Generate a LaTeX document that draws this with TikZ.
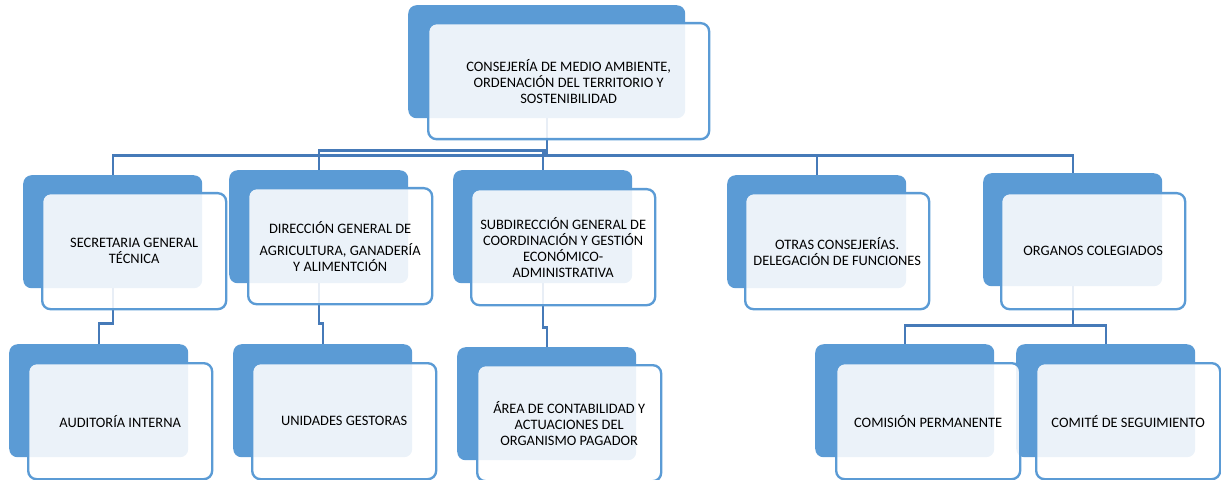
\documentclass[tikz,border=0pt]{standalone}
\usepackage{fontspec}
\setmainfont{Carlito}
\usetikzlibrary{calc}

\definecolor{boxblue}{RGB}{91,155,213}
\definecolor{lineblue}{RGB}{70,122,184}

\tikzset{
	backbox/.style={fill=boxblue, rounded corners=0.25cm, anchor=north west, inner sep=0pt,
		minimum width=179*0.03cm, minimum height=113*0.03cm},
	frontbox/.style={draw=boxblue, line width=2pt, fill=white, fill opacity=0.88, text opacity=1,
		rounded corners=0.25cm, anchor=north west, inner sep=0pt, align=center,
		minimum width=184*0.03cm, minimum height=116*0.03cm,
		font=\fontsize{12.3}{13.6}\selectfont},
	conn/.style={draw=lineblue, line width=2pt}
}

\begin{document}
\begin{tikzpicture}[x=0.03cm, y=-0.03cm]
	\useasboundingbox (0,0) rectangle (1221,480);
	
	% back boxes
	\node[backbox, minimum width=277*0.03cm] (consb) at (408,5) {};
	\node[backbox] (secb) at (23,175) {};
	\node[backbox] (dirb) at (229,170) {};
	\node[backbox] (subb) at (453,170) {};
	\node[backbox] (otrb) at (727,175) {};
	\node[backbox] (orgb) at (983,173) {};
	\node[backbox] (audb) at (9,344) {};
	\node[backbox] (unib) at (233,344) {};
	\node[backbox] (areab) at (457,347) {};
	\node[backbox] (comb) at (815,344) {};
	\node[backbox] (cmtb) at (1016,344) {};
	
	% connectors, top level
	\draw[conn] (consb.south) -- ++(0,37) -| (secb.north);
	\draw[conn] (consb.south) -- ++(0,32) -| (dirb.north);
	\draw[conn] (consb.south) -- ++(0,34) -| (subb.north);
	\draw[conn] (consb.south) -- ++(0,37) -| (otrb.north);
	\draw[conn] (consb.south) -- ++(0,37) -| (orgb.north);
	
	% connectors, second level
	\draw[conn] (secb.south) -- ++(0,35) -| (audb.north);
	\draw[conn] (dirb.south) -- ++(0,40) -| (unib.north);
	\draw[conn] (subb.south) -- ++(0,44) -| (areab.north);
	\draw[conn] (orgb.south) -- ++(0,39) -| (comb.north);
	\draw[conn] (orgb.south) -- ++(0,39) -| (cmtb.north);
	
	% front boxes with the texts
	\node[frontbox, minimum width=281*0.03cm] (cons) at (427,22)
		{CONSEJERÍA DE MEDIO AMBIENTE,\\ORDENACIÓN DEL TERRITORIO Y\\SOSTENIBILIDAD};
	\node[frontbox] (sec) at (41,192) {SECRETARIA GENERAL\\TÉCNICA};
	\node[frontbox] (dir) at (247,187)
		{DIRECCIÓN GENERAL DE\\[5pt]AGRICULTURA, GANADERÍA\\Y ALIMENTCIÓN};
	\node[frontbox] (sub) at (470,188)
		{SUBDIRECCIÓN GENERAL DE\\COORDINACIÓN Y GESTIÓN\\ECONÓMICO-\\ADMINISTRATIVA};
	\node[frontbox] (otr) at (744,192) {OTRAS CONSEJERÍAS.\\DELEGACIÓN DE FUNCIONES};
	\node[frontbox] (org) at (1000,192) {ORGANOS COLEGIADOS};
	\node[frontbox] (aud) at (27,362) {AUDITORÍA INTERNA};
	\node[frontbox] (uni) at (251,362) {UNIDADES GESTORAS};
	\node[frontbox] (area) at (476,364)
		{ÁREA DE CONTABILIDAD Y\\ACTUACIONES DEL\\ORGANISMO PAGADOR};
	\node[frontbox] (com) at (835,362) {COMISIÓN PERMANENTE};
	\node[frontbox] (cmt) at (1035,362) {COMITÉ DE SEGUIMIENTO};
\end{tikzpicture}
\end{document}
